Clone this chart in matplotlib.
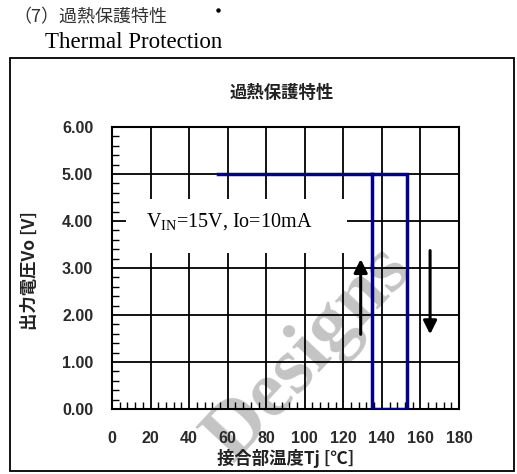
import matplotlib
matplotlib.use("Agg")
import matplotlib.pyplot as plt
from matplotlib.patches import Rectangle
from matplotlib.lines import Line2D
from matplotlib.ticker import MultipleLocator

# Data
curve_t = [55, 153, 153, 135, 135]
curve_v = [5.0, 5.0, 0.0, 0.0, 5.0]
arrow_up = {"t": 129, "v_from": 1.53, "v_to": 3.25}
arrow_down = {"t": 165, "v_from": 3.43, "v_to": 1.53}
x_ticks = [0, 20, 40, 60, 80, 100, 120, 140, 160, 180]
y_ticks = [0.0, 1.0, 2.0, 3.0, 4.0, 5.0, 6.0]
y_ticklabels = ["0.00", "1.00", "2.00", "3.00", "4.00", "5.00", "6.00"]

CJK = ["Noto Sans CJK JP", "DejaVu Sans"]
SANS = ["Liberation Sans", "DejaVu Sans"]
SERIF = ["Liberation Serif", "DejaVu Serif"]

plt.rcParams["mathtext.fontset"] = "custom"
plt.rcParams["mathtext.rm"] = "Liberation Serif"
plt.rcParams["mathtext.it"] = "Liberation Serif:italic"
plt.rcParams["mathtext.bf"] = "Liberation Serif:bold"

fig = plt.figure(figsize=(5.17, 4.74), dpi=100)
W, H = 517, 474

def fx(px):
    return px / W

def fy(py):
    return 1 - py / H

# Outer frame
fig.patches.append(Rectangle((fx(10), fy(471)), fx(514) - fx(10), fy(58) - fy(471),
                             transform=fig.transFigure, fill=False,
                             edgecolor="black", linewidth=1.3))
fig.lines.append(Line2D([fx(218)], [fy(10)], transform=fig.transFigure,
                        marker="o", markersize=2.2, color="black", linestyle="none"))

fig.text(fx(13), fy(17), "（7）過熱保護特性", family=CJK, fontsize=13,
         color="#333333", va="center", ha="left")
fig.text(fx(45), fy(43), "Thermal Protection", family=SERIF, fontsize=16.5,
         color="black", va="center", ha="left")

ax = fig.add_axes([fx(112), fy(409), fx(459) - fx(112), fy(127) - fy(409)])
ax.set_facecolor("none")
ax.set_xlim(0, 180)
ax.set_ylim(0, 6)
ax.set_xticks(x_ticks)
ax.set_yticks(y_ticks)
ax.set_yticklabels(y_ticklabels)
ax.xaxis.set_minor_locator(MultipleLocator(4))
ax.yaxis.set_minor_locator(MultipleLocator(0.2))
ax.tick_params(which="both", direction="in", top=False, right=False, length=0)
ax.tick_params(which="minor", length=5, width=1, left=True, bottom=True)
ax.tick_params(axis="y", which="major", pad=13.5, labelsize=11.5)
ax.tick_params(axis="x", which="major", pad=15.5, labelsize=11.5)
for lab in ax.get_xticklabels() + ax.get_yticklabels():
    lab.set_family(SANS)
    lab.set_fontweight("bold")
    lab.set_color("#2a2a2a")
ax.grid(True, which="major", color="black", linewidth=1.3)
ax.set_axisbelow(True)
for s in ax.spines.values():
    s.set_linewidth(1.5)

# White area behind the condition label
ax.add_patch(Rectangle((7.3, 3.32), 122 - 7.3, 4.47 - 3.32, facecolor="white",
                       edgecolor="none", zorder=1.5))
ax.text(17.5, 3.98, r"V$_{\mathrm{IN}}$=15V, Io=10mA", family=SERIF, fontsize=14.5,
        va="center", ha="left", zorder=3)

ax.plot(curve_t, curve_v, color="#000088", linewidth=2.5, zorder=4,
        solid_joinstyle="miter")

for a in (arrow_up, arrow_down):
    ax.annotate("", xy=(a["t"], a["v_to"]), xytext=(a["t"], a["v_from"]),
                arrowprops=dict(arrowstyle="-|>,head_width=0.4,head_length=0.8",
                                color="black", lw=2.2), zorder=5)

fig.text(fx(282), fy(93), "過熱保護特性", family=CJK, fontsize=12.5,
         fontweight="bold", color="#222222", ha="center", va="center")
fig.text(fx(286), fy(459), "接合部温度Tj [℃]", family=CJK, fontsize=12.5,
         fontweight="bold", color="#222222", ha="center", va="center")
fig.text(fx(30), fy(271), "出力電圧Vo [V]", family=CJK, fontsize=12.5,
         fontweight="bold", color="#222222", ha="center", va="center",
         rotation=90)

# Watermark (behind the axes content)
fig.text(fx(309), fy(354), "Designs", family=SERIF, fontsize=58,
         fontweight="bold", color="#c4c4c4", rotation=47,
         ha="center", va="center", zorder=-1)

fig.savefig("out.png", dpi=100)
